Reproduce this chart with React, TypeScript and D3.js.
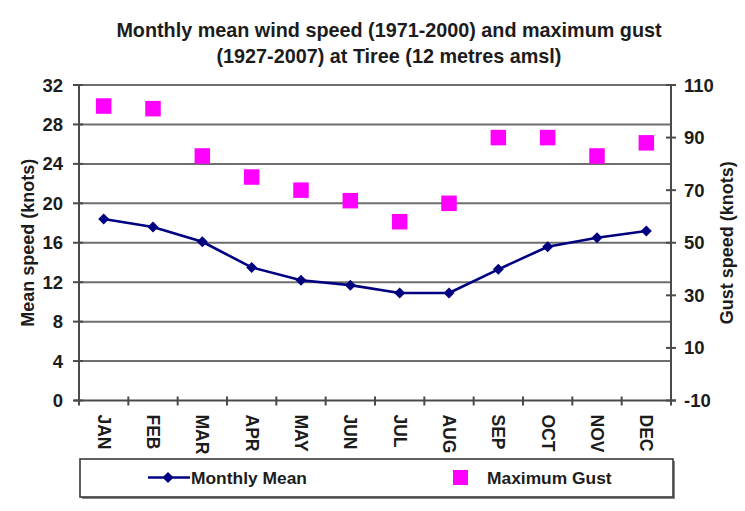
import React from "react";
import * as d3 from "d3";

// Tiree climate: monthly mean wind speed (knots) and maximum gust (knots)
const months = ["JAN", "FEB", "MAR", "APR", "MAY", "JUN", "JUL", "AUG", "SEP", "OCT", "NOV", "DEC"];
const meanSpeed = [18.4, 17.6, 16.1, 13.5, 12.2, 11.7, 10.9, 10.9, 13.3, 15.6, 16.5, 17.2];
const maxGust = [102, 101, 83, 75, 70, 66, 58, 65, 90, 90, 83, 88];
const leftTicks = [0, 4, 8, 12, 16, 20, 24, 28, 32];
const rightTicks = [-10, 10, 30, 50, 70, 90, 110];
const titleLines = [
  "Monthly mean wind speed (1971-2000) and maximum gust",
  "(1927-2007) at Tiree (12 metres amsl)",
];

const W = 745;
const H = 511;
const plot = { left: 79, right: 671, top: 85, bottom: 400.5 };
const FONT = "'Liberation Sans', Arial, Helvetica, sans-serif";
const TEXT = "#1c1c1c";
const AXIS = "#4a4a4a";
const GRID = "#6e6e6e";
const NAVY = "#000080";
const MAGENTA = "#ff00ff";

export default function App() {
  const x = d3.scaleBand<string>().domain(months).range([plot.left, plot.right]);
  const yL = d3.scaleLinear().domain([0, 32]).range([plot.bottom, plot.top]);
  const yR = d3.scaleLinear().domain([-10, 110]).range([plot.bottom, plot.top]);
  const cx = (m: string) => (x(m) ?? 0) + x.bandwidth() / 2;

  const line = d3
    .line<number>()
    .x((_, i) => cx(months[i]))
    .y((d) => yL(d));

  const diamond = (px: number, py: number, r: number) =>
    `M${px},${py - r}L${px + r},${py}L${px},${py + r}L${px - r},${py}Z`;

  const sq = 15.5;
  const boundaries = months.map((m) => x(m) ?? 0).concat([plot.right]);

  return (
    <svg
      width={W}
      height={H}
      style={{ position: "absolute", left: 0, top: 0, background: "#fff" }}
      fontFamily={FONT}
    >
      <rect x={0} y={0} width={W} height={H} fill="#fff" />

      {/* title */}
      {titleLines.map((t, i) => (
        <text
          key={t}
          x={389}
          y={37 + i * 26}
          textAnchor="middle"
          fontSize={19.8}
          fontWeight="bold"
          fill={TEXT}
        >
          {t}
        </text>
      ))}

      {/* horizontal gridlines at the left-axis ticks */}
      {leftTicks
        .filter((t) => t > 0)
        .map((t) => (
          <line
            key={`g${t}`}
            x1={plot.left}
            x2={plot.right}
            y1={yL(t)}
            y2={yL(t)}
            stroke={GRID}
            strokeWidth={2}
          />
        ))}

      {/* axes */}
      <line x1={plot.left} x2={plot.left} y1={plot.top} y2={plot.bottom} stroke={AXIS} strokeWidth={2} />
      <line x1={plot.right} x2={plot.right} y1={plot.top} y2={plot.bottom} stroke={AXIS} strokeWidth={2} />
      <line x1={plot.left - 5} x2={plot.right + 5} y1={plot.bottom} y2={plot.bottom} stroke={AXIS} strokeWidth={2} />

      {/* left axis ticks and labels */}
      {leftTicks.map((t) => (
        <g key={`l${t}`}>
          <line x1={plot.left - 6} x2={plot.left + 4} y1={yL(t)} y2={yL(t)} stroke={AXIS} strokeWidth={2} />
          <text
            x={63}
            y={yL(t)}
            textAnchor="end"
            dominantBaseline="central"
            fontSize={18.5}
            fontWeight="bold"
            fill={TEXT}
          >
            {t}
          </text>
        </g>
      ))}

      {/* right axis ticks and labels */}
      {rightTicks.map((t) => (
        <g key={`r${t}`}>
          <line x1={plot.right - 5} x2={plot.right + 5} y1={yR(t)} y2={yR(t)} stroke={AXIS} strokeWidth={2} />
          <text
            x={684}
            y={yR(t)}
            textAnchor="start"
            dominantBaseline="central"
            fontSize={18.5}
            fontWeight="bold"
            fill={TEXT}
          >
            {t}
          </text>
        </g>
      ))}

      {/* category boundary ticks */}
      {boundaries.map((b, i) => (
        <line
          key={`b${i}`}
          x1={b}
          x2={b}
          y1={plot.bottom - 4}
          y2={plot.bottom + 5}
          stroke={AXIS}
          strokeWidth={2}
        />
      ))}

      {/* month labels */}
      {months.map((m) => (
        <text
          key={m}
          transform={`translate(${cx(m)},${plot.bottom + 14}) rotate(90)`}
          textAnchor="start"
          dominantBaseline="central"
          fontSize={17.5}
          fontWeight="bold"
          fill={TEXT}
        >
          {m}
        </text>
      ))}

      {/* axis titles */}
      <text
        transform={`translate(28,${(plot.top + plot.bottom) / 2}) rotate(-90)`}
        textAnchor="middle"
        dominantBaseline="central"
        fontSize={18}
        fontWeight="bold"
        fill={TEXT}
      >
        Mean speed (knots)
      </text>
      <text
        transform={`translate(727,${(plot.top + plot.bottom) / 2}) rotate(-90)`}
        textAnchor="middle"
        dominantBaseline="central"
        fontSize={18}
        fontWeight="bold"
        fill={TEXT}
      >
        Gust speed (knots)
      </text>

      {/* maximum gust markers */}
      {maxGust.map((g, i) => (
        <rect
          key={`q${i}`}
          x={cx(months[i]) - sq / 2}
          y={yR(g) - sq / 2}
          width={sq}
          height={sq}
          fill={MAGENTA}
        />
      ))}

      {/* monthly mean line */}
      <path d={line(meanSpeed) ?? ""} fill="none" stroke={NAVY} strokeWidth={2.6} strokeLinejoin="round" />
      {meanSpeed.map((v, i) => (
        <path key={`d${i}`} d={diamond(cx(months[i]), yL(v), 5.5)} fill={NAVY} />
      ))}

      {/* legend */}
      <rect x={82} y={461} width={593} height={38} fill="#888" />
      <rect x={80} y={459} width={593} height={38} fill="#fff" stroke="#3a3a3a" strokeWidth={1.6} />
      <line x1={148} x2={190} y1={477.5} y2={477.5} stroke={NAVY} strokeWidth={2.6} />
      <path d={diamond(168, 477.5, 5.5)} fill={NAVY} />
      <text x={191} y={477.5} dominantBaseline="central" fontSize={17.4} fontWeight="bold" fill={TEXT}>
        Monthly Mean
      </text>
      <rect x={453} y={470} width={15} height={15} fill={MAGENTA} />
      <text x={487} y={477.5} dominantBaseline="central" fontSize={17.4} fontWeight="bold" fill={TEXT}>
        Maximum Gust
      </text>
    </svg>
  );
}
